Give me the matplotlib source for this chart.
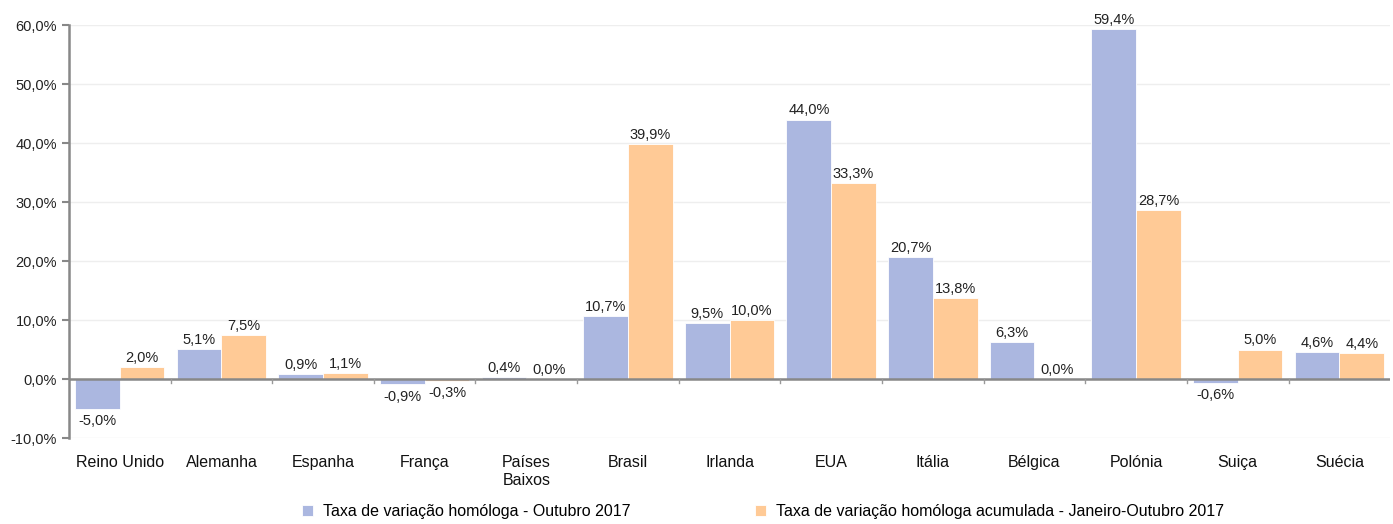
import matplotlib.pyplot as plt
import numpy as np

plt.rcParams['font.family'] = ['Liberation Sans', 'DejaVu Sans']

paises = ['Reino Unido', 'Alemanha', 'Espanha', 'França', 'Países\nBaixos', 'Brasil',
          'Irlanda', 'EUA', 'Itália', 'Bélgica', 'Polónia', 'Suiça', 'Suécia']
taxa_outubro = [-5.0, 5.1, 0.9, -0.9, 0.4, 10.7, 9.5, 44.0, 20.7, 6.3, 59.4, -0.6, 4.6]
taxa_acumulada = [2.0, 7.5, 1.1, -0.3, 0.0, 39.9, 10.0, 33.3, 13.8, 0.0, 28.7, 5.0, 4.4]
yticks = [-10, 0, 10, 20, 30, 40, 50, 60]

cor_azul = '#abb7e0'
cor_laranja = '#ffca96'

fig = plt.figure(figsize=(13.93, 5.24), dpi=100)
ax = fig.add_axes([0.0495, 0.164, 0.9485, 0.788])

x = np.arange(len(paises))
w = 0.44
b1 = ax.bar(x - w/2, taxa_outubro, w, color=cor_azul, edgecolor='white', linewidth=0.6,
            label='Taxa de variação homóloga - Outubro 2017', zorder=2)
b2 = ax.bar(x + w/2, taxa_acumulada, w, color=cor_laranja, edgecolor='white', linewidth=0.6,
            label='Taxa de variação homóloga acumulada - Janeiro-Outubro 2017', zorder=2)

def fmt(v):
    return ('%.1f' % v).replace('.', ',') + '%'

for bars, vals in ((b1, taxa_outubro), (b2, taxa_acumulada)):
    for r, v in zip(bars, vals):
        cx = r.get_x() + r.get_width() / 2
        if v < 0:
            ax.annotate(fmt(v), (cx, v), xytext=(0, -4), textcoords='offset points',
                        ha='center', va='top', fontsize=10.5, color='#222222')
        else:
            ax.annotate(fmt(v), (cx, v), xytext=(0, 1.5), textcoords='offset points',
                        ha='center', va='bottom', fontsize=10.5, color='#222222')

ax.set_ylim(-10, 60)
ax.set_xlim(-0.5, len(paises) - 0.5)
ax.set_yticks(yticks)
ax.set_yticklabels([fmt(t) for t in yticks], fontsize=10.5, color='#222222')
ax.yaxis.grid(True, color='#eeeeee', linewidth=1, zorder=0)
ax.set_axisbelow(True)

# linha do zero com pequenos traços entre categorias
ax.axhline(0, color='#888888', linewidth=1.8, zorder=3)
for b in np.arange(0.5, len(paises) - 0.5):
    ax.plot([b, b], [0, -0.7], color='#999999', linewidth=1, zorder=3)

ax.set_xticks(x)
ax.set_xticklabels(paises, fontsize=11.5, color='#111111', linespacing=1.3)
ax.tick_params(axis='x', length=0, pad=12)
ax.tick_params(axis='y', length=5, color='#888888', width=1.5)

for s in ['top', 'right', 'bottom']:
    ax.spines[s].set_visible(False)
ax.spines['left'].set_color('#888888')
ax.spines['left'].set_linewidth(1.8)

fig.legend(handles=[b1, b2], loc='center left', bbox_to_anchor=(0.217, 0.024), ncol=2,
           frameon=False, fontsize=11.5, handlelength=0.7, handleheight=0.7,
           columnspacing=7.8, handletextpad=0.6, borderpad=0, borderaxespad=0)

fig.savefig('out.png', dpi=100)
